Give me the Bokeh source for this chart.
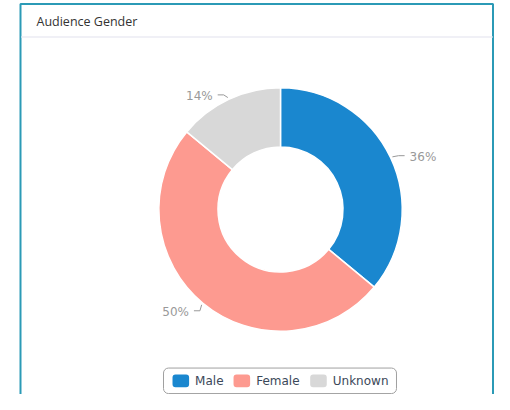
import math
from bokeh.plotting import figure
from bokeh.models import Range1d, ColumnDataSource
from bokeh.core.properties import value
from bokeh.embed import file_html
from bokeh.resources import INLINE

# ---- data ----
title = "Audience Gender"
categories = ["Male", "Female", "Unknown"]
percents = [36, 50, 14]
colors = ["#1a87cf", "#fd9a90", "#d8d8d8"]

# ---- layout (picture pixel coordinates) ----
W, H = 494, 394
def Y(wy):
    return 410 - wy

CX, CY = 280.0, Y(209.0)
R_OUT, R_IN = 121.7, 62.5
label_dx = [19, -14, -16]
label_dy = [-0.5, 9, -3]

p = figure(width=W, height=H, x_range=Range1d(0, W), y_range=Range1d(Y(H), Y(0)),
           output_backend="svg", toolbar_location=None, x_axis_type=None, y_axis_type=None,
           min_border=0, outline_line_color=None,
           background_fill_color="white", border_fill_color="white")

# card border + header
p.line(x=[20, 20, 492.5, 492.5], y=[Y(400), Y(3.5), Y(3.5), Y(400)], line_color="#2b9ab6", line_width=2)
p.line(x=[21, 492], y=[Y(36.5), Y(36.5)], line_color="#f0f0f6", line_width=2)
p.text(x=[36], y=[Y(21)], text=[title], text_font=value("Open Sans"), text_font_size="12.5px",
       text_color="#333333", text_baseline="middle", text_align="left")

# donut
total = float(sum(percents))
starts, ends, mids = [], [], []
cum = 0.0
for v in percents:
    a0 = math.pi / 2 - 2 * math.pi * cum / total
    a1 = math.pi / 2 - 2 * math.pi * (cum + v) / total
    starts.append(a1)
    ends.append(a0)
    mids.append((a0 + a1) / 2)
    cum += v

src = ColumnDataSource(dict(start=starts, end=ends, color=colors, cat=categories, pct=percents))
p.annular_wedge(x=CX, y=CY, inner_radius=R_IN, outer_radius=R_OUT, start_angle="start",
                end_angle="end", fill_color="color", line_color="white", line_width=1.5, source=src)

# data labels with connectors
lx, ly, ltxt, lalign, cxs, cys = [], [], [], [], [], []
for i, (v, th) in enumerate(zip(percents, mids)):
    ex = CX + R_OUT * math.cos(th)
    ey = CY + R_OUT * math.sin(th)
    side = 1 if math.cos(th) >= 0 else -1
    tx = ex + label_dx[i]
    ty = ey - label_dy[i]
    lx.append(tx)
    ly.append(ty)
    ltxt.append(f"{v}%")
    lalign.append("left" if side > 0 else "right")
    ax = tx - side * 5
    bx = ax - side * 6
    ex2 = CX + (R_OUT + 2) * math.cos(th)
    ey2 = CY + (R_OUT + 2) * math.sin(th)
    cxs.append([ax, bx, ex2])
    cys.append([ty + 1.5, ty + 1.5, ey2])

p.multi_line(xs=cxs, ys=cys, line_color="#999999", line_width=1)
p.text(x=lx, y=ly, text=ltxt, text_align=lalign, text_baseline="middle",
       text_font=value("DejaVu Sans"), text_font_size="12px", text_color="#999999")

# legend
adv = {"M": .863, "a": .613, "l": .278, "e": .615, "F": .575, "m": .974, "U": .732,
       "n": .634, "k": .579, "o": .612, "w": .818}
fs = 12
sw_w, sw_h, gap_t, gap_i, pad_l, pad_r = 16.6, 12.7, 6, 10, 9, 8
tw = [sum(adv.get(c, 0.6) for c in s) * fs for s in categories]
box_w = pad_l + sum(sw_w + gap_t + w for w in tw) + gap_i * (len(categories) - 1) + pad_r
leg_cx, leg_cy, box_h = 279.5, Y(380.3), 25.5
x0 = leg_cx - box_w / 2
p.rect(x=[leg_cx], y=[leg_cy], width=box_w, height=box_h, fill_color="white",
       line_color="#a0a0a0", line_width=1, border_radius=5)
sx, tx_ = [], []
cur = x0 + pad_l
for w in tw:
    sx.append(cur + sw_w / 2)
    tx_.append(cur + sw_w + gap_t)
    cur += sw_w + gap_t + w + gap_i
p.rect(x=sx, y=[leg_cy] * len(sx), width=sw_w, height=sw_h, fill_color=colors,
       line_color=None, border_radius=3)
p.text(x=tx_, y=[leg_cy] * len(tx_), text=categories, text_align="left", text_baseline="middle",
       text_font=value("DejaVu Sans"), text_font_size="12px", text_color="#3b4859")

open("out.html", "w").write(file_html(p, INLINE))
